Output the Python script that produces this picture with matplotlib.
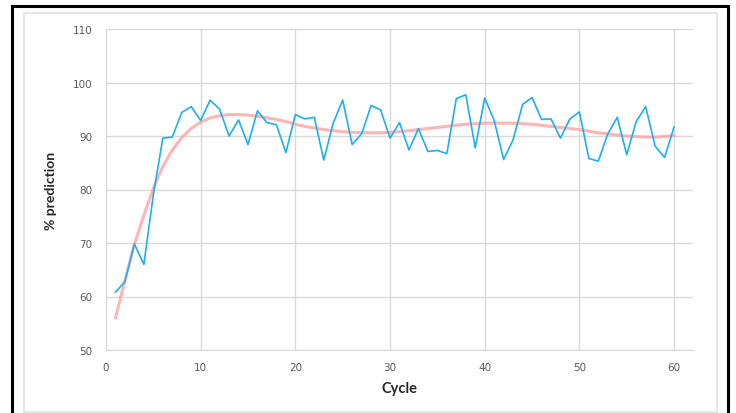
import matplotlib

matplotlib.use("Agg")
import matplotlib.pyplot as plt
from matplotlib.lines import Line2D
from matplotlib.patches import Rectangle

# data
cycles = list(range(1, 61))
prediction = [
    60.8, 62.8, 69.8, 66.0, 79.0, 89.6, 89.8, 94.4, 95.5, 92.9,
    96.7, 95.0, 90.0, 93.0, 88.4, 94.7, 92.5, 92.1, 86.9, 94.0,
    93.2, 93.5, 85.5, 92.4, 96.7, 88.4, 90.4, 95.7, 94.9, 89.6,
    92.5, 87.4, 91.4, 87.1, 87.3, 86.7, 97.0, 97.7, 87.8, 97.1,
    92.9, 85.6, 89.3, 95.9, 97.2, 93.1, 93.2, 89.6, 93.2, 94.5,
    85.8, 85.3, 90.4, 93.5, 86.5, 92.7, 95.5, 88.1, 86.0, 91.7,
]
trend = [
    56.0, 63.0, 69.8, 75.2, 80.2, 84.3, 87.4, 89.7, 91.4, 92.6,
    93.4, 93.8, 94.0, 94.0, 93.9, 93.7, 93.4, 93.1, 92.7, 92.2,
    91.8, 91.5, 91.2, 91.0, 90.8, 90.7, 90.6, 90.6, 90.6, 90.7,
    90.8, 91.0, 91.2, 91.4, 91.6, 91.8, 92.0, 92.2, 92.3, 92.4,
    92.4, 92.4, 92.4, 92.3, 92.2, 92.0, 91.8, 91.6, 91.4, 91.2,
    90.9, 90.6, 90.4, 90.2, 90.0, 89.9, 89.8, 89.8, 89.9, 90.1,
]
x_ticks = [0, 10, 20, 30, 40, 50, 60]
y_ticks = [50, 60, 70, 80, 90, 100, 110]

plt.rcParams["font.family"] = ["Lato", "DejaVu Sans"]

W, H = 736, 414
fig = plt.figure(figsize=(W / 100, H / 100), dpi=100)
fig.patch.set_facecolor("white")

# outer black frame (no bottom edge) and light inner chart border
fig.add_artist(Line2D([12 / W, 12 / W], [0, 1 - 7 / H], color="black", lw=2.2))
fig.add_artist(Line2D([12 / W, 727.5 / W], [1 - 7 / H, 1 - 7 / H], color="black", lw=2.2))
fig.add_artist(Line2D([727.5 / W, 727.5 / W], [0, 1 - 7 / H], color="black", lw=2.2))
fig.add_artist(Rectangle((24 / W, 1 / H), (717 - 24) / W, (414 - 15) / H,
                         transform=fig.transFigure, fill=False,
                         edgecolor="#e6e6e6", lw=1.5))

ax = fig.add_axes([106 / W, 63 / H, (693 - 106) / W, (351 - 30) / H])
ax.plot(cycles, trend, color="#ffa3a3", lw=2.2, alpha=0.8, zorder=2)
ax.plot(cycles, prediction, color="#1cb0ee", lw=1.2, zorder=3)

ax.set_xlim(0, 62)
ax.set_ylim(50, 110)
ax.set_xticks(x_ticks)
ax.set_yticks(y_ticks)
ax.grid(True, color="#d9d9d9", lw=1)
ax.set_axisbelow(True)
for side in ["top", "right", "left"]:
    ax.spines[side].set_visible(False)
ax.spines["bottom"].set_color("#d9d9d9")
ax.tick_params(length=0, labelsize=7.5, labelcolor="#595959")
for lab in ax.get_xticklabels() + ax.get_yticklabels():
    lab.set_family("DejaVu Sans")
ax.tick_params(axis="x", pad=9)
ax.tick_params(axis="y", pad=10)

ax.set_xlabel("Cycle", fontsize=10.5, fontweight="bold", color="#262626", labelpad=6)
ax.set_ylabel("% prediction", fontsize=10, fontweight="bold", color="#262626", labelpad=11)

fig.savefig("out.png", dpi=100)
